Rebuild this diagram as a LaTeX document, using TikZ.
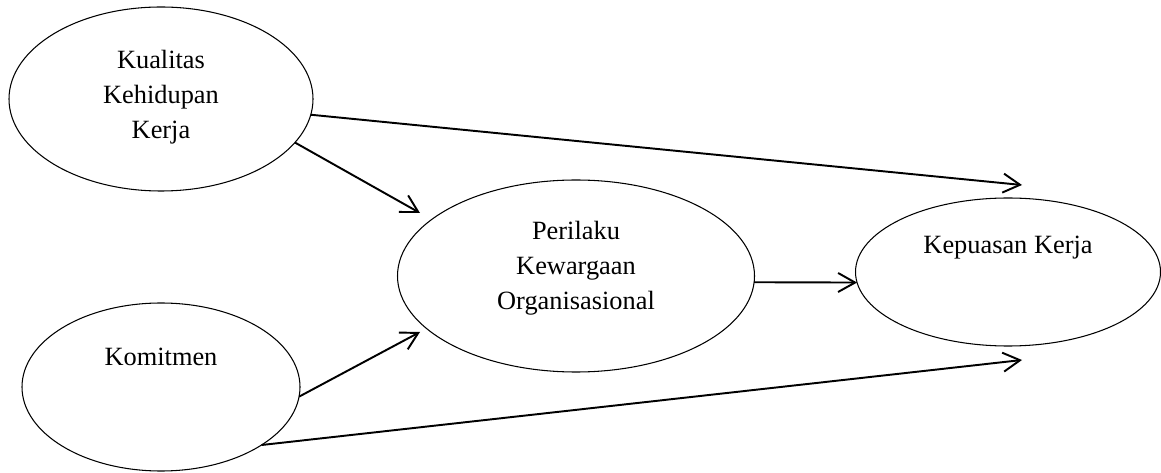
\documentclass[tikz,border=0pt]{standalone}
\usepackage{fontspec}
\setmainfont{Liberation Serif}
\usetikzlibrary{arrows.meta, shapes.geometric}

\begin{document}
\begin{tikzpicture}[
		var/.style={draw, ellipse, line width=0.6pt, inner sep=0pt, outer sep=0pt},
		lbl/.style={align=center, font=\fontsize{15pt}{19.9pt}\selectfont},
		path/.style={line width=1.1pt, -{Straight Barb[length=3.4mm, width=3.8mm]}}
	]
			\useasboundingbox (0,0) rectangle (23.22,9.44);
			% variabel
			\node[var, minimum width=6.08cm, minimum height=3.68cm] (kualitas) at (3.22,7.46) {};
			\node[var, minimum width=5.56cm, minimum height=3.36cm] (komitmen) at (3.22,1.70) {};
			\node[var, minimum width=7.14cm, minimum height=3.84cm] (perilaku) at (11.52,3.92) {};
			\node[var, minimum width=6.10cm, minimum height=2.96cm] (kepuasan) at (20.16,4.00) {};
			\node[lbl] (kualitasT) at (3.22,7.50) {Kualitas\\Kehidupan\\Kerja};
			\node[lbl] (komitmenT) at (3.22,2.30) {Komitmen};
			\node[lbl] (perilakuT) at (11.52,4.08) {Perilaku\\Kewargaan\\Organisasional};
			\node[lbl] (kepuasanT) at (20.16,4.48) {Kepuasan Kerja};
			% ujung panah
			\coordinate (t1) at (20.44,5.74);
			\coordinate (t2) at (8.40,5.18);
			\coordinate (t3) at (8.40,2.80);
			\coordinate (t4) at (20.44,2.24);
			\draw[path] (kualitas.-6) -- (t1);
			\draw[path] (kualitas.-18) -- (t2);
			\draw[path] (komitmen.-4) -- (t3);
			\draw[path] (komitmen.-30) -- (t4);
			\draw[path] (perilaku.-2) -- (kepuasan.184);
		\end{tikzpicture}
\end{document}
